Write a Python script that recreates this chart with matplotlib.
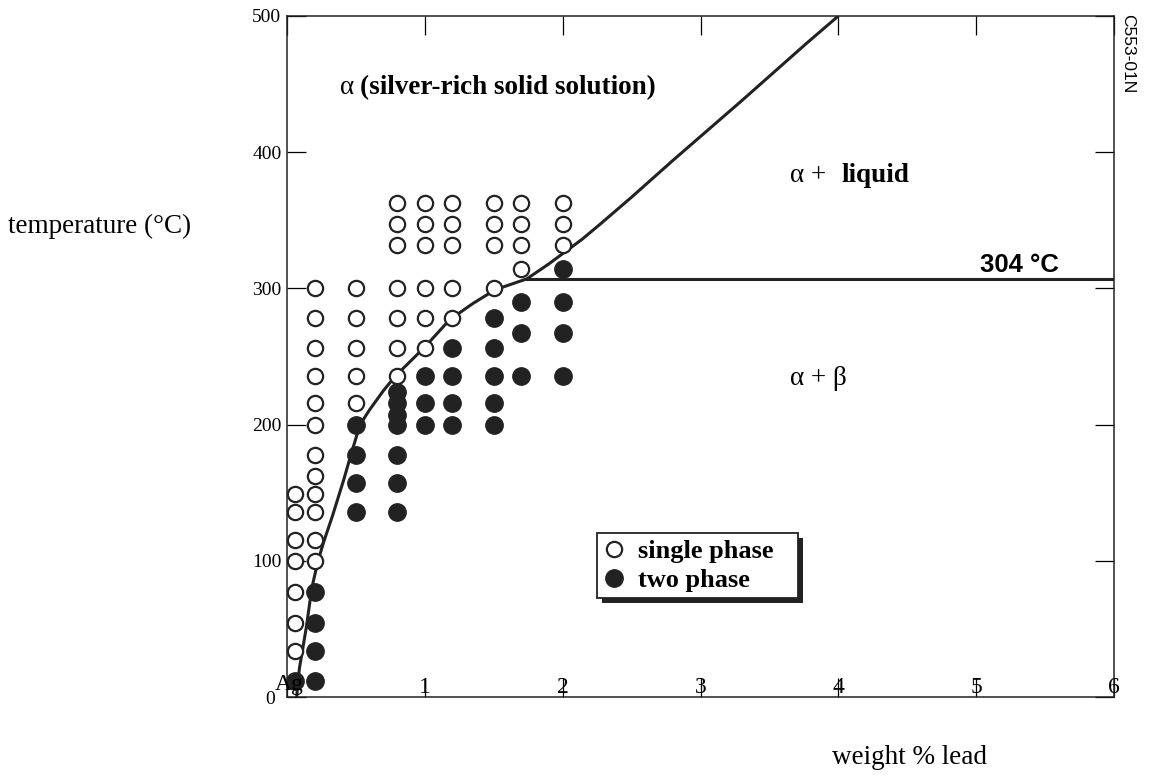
import matplotlib
matplotlib.use('Agg')
from matplotlib import pyplot as plt
from matplotlib.lines import Line2D
from matplotlib.patches import Rectangle

W, H = 1149, 776

# --- data (weight % lead, temperature in C) ---
single_x = [0.06]*7 + [0.2]*12 + [0.5]*5 + [0.8]*7 + [1.0]*6 + [1.2]*5 + [1.5]*4 + [1.7]*4 + [2.0]*3
single_t = ([149, 136, 115, 100, 77, 54, 34] +
            [300, 278, 256, 236, 216, 200, 178, 162, 149, 136, 115, 100] +
            [300, 278, 256, 236, 216] +
            [363, 347, 332, 300, 278, 256, 236] +
            [363, 347, 332, 300, 278, 256] +
            [363, 347, 332, 300, 278] +
            [363, 347, 332, 300] +
            [363, 347, 332, 314] +
            [363, 347, 332])

two_x = [0.06] + [0.2]*4 + [0.5]*4 + [0.8]*7 + [1.0]*3 + [1.2]*4 + [1.5]*5 + [1.7]*3 + [2.0]*4
two_t = ([12] +
         [77, 54, 34, 12] +
         [200, 178, 157, 136] +
         [224, 216, 207, 200, 178, 157, 136] +
         [236, 216, 200] +
         [256, 236, 216, 200] +
         [278, 256, 236, 216, 200] +
         [290, 267, 236] +
         [314, 290, 267, 236])

# phase boundary (solidus + liquidus)
curve_x = [0.07, 0.09, 0.14, 0.18, 0.225, 0.27, 0.33, 0.41, 0.47, 0.53, 0.6, 0.7, 0.79,
           0.9, 1.0, 1.18, 1.35, 1.51, 1.74, 1.9, 2.02, 2.14, 2.27, 2.5, 2.8, 3.29, 3.77, 4.0]
curve_t = [0, 21, 51, 80, 100, 115, 133, 159, 180, 200, 211, 225, 236,
           247, 257, 277, 289, 299, 307, 318, 327, 336, 347, 367, 394, 437, 480, 500]
eut_x = [1.74, 6.0]
eut_t = [307, 307]

xticks = [0, 1, 2, 3, 4, 5, 6]
xlabels = ['Ag', '1', '2', '3', '4', '5', '6']
yticks = [0, 100, 200, 300, 400, 500]


def fx(px):
    return px / W


def fy(py):
    return 1 - py / H


serif = ['Liberation Serif', 'DejaVu Serif']
sans = ['Liberation Sans', 'DejaVu Sans']
plt.rcParams['font.family'] = serif

fig = plt.figure(figsize=(W / 100, H / 100), dpi=100)
ax = fig.add_axes([fx(287), fy(697), fx(1114) - fx(287), fy(16) - fy(697)])

ax.plot(curve_x, curve_t, color='#222222', lw=2.2, zorder=2, solid_capstyle='butt')
ax.plot(eut_x, eut_t, color='#222222', lw=2.2, zorder=2)
ax.plot(single_x, single_t, 'o', ls='none', ms=11, mfc='white', mec='#222222', mew=1.6, zorder=3)
ax.plot(two_x, two_t, 'o', ls='none', ms=12.5, mfc='#222222', mec='#222222', mew=1, zorder=3)

ax.set_xlim(0, 6)
ax.set_ylim(0, 500)
for s in ax.spines.values():
    s.set_linewidth(1.1)
    s.set_color('#222222')

ax.set_yticks(yticks)
ax.set_yticklabels([str(v) for v in yticks], fontsize=14)
ax.tick_params(axis='y', direction='in', length=14, width=0.9, left=True, right=True, pad=4)
ax.yaxis.get_major_ticks()[0].set_pad(9)
ax.set_xticks(xticks)
ax.set_xticklabels([])
ax.tick_params(axis='x', direction='in', length=14, width=0.9, top=True, bottom=True)
for xv, lab in zip(xticks, xlabels):
    if xv == 0:
        ax.text(-0.09, 5, lab, ha='left', va='baseline', fontsize=17, zorder=4, clip_on=False)
    else:
        ax.text(xv, 3, lab, ha='center', va='baseline', fontsize=17, zorder=4, clip_on=False)

# region labels
fig.text(fx(340), fy(88), '\u03b1', fontsize=19.5, va='center', ha='left')
fig.text(fx(360), fy(88), '(silver-rich solid solution)', fontsize=19.5, fontweight='bold',
         va='center', ha='left')
fig.text(fx(790), fy(176), '\u03b1 +', fontsize=19.5, va='center', ha='left')
fig.text(fx(842), fy(176), 'liquid', fontsize=19.5, fontweight='bold', va='center', ha='left')
fig.text(fx(790), fy(378), '\u03b1 + \u03b2', fontsize=19.5, va='center', ha='left')
fig.text(fx(980), fy(265), '304 \u00b0C', fontsize=18.5, fontweight='bold', family=sans,
         va='center', ha='left')
fig.text(fx(1128), fy(14), 'C553-01N', fontsize=12.5, family=sans, rotation=-90,
         va='top', ha='center')

fig.text(fx(8), fy(226), 'temperature (\u00b0C)', fontsize=19.5, va='center', ha='left')
fig.text(fx(832), fy(757), 'weight % lead', fontsize=19.5, va='center', ha='left')

# legend with solid black drop shadow
h1 = Line2D([], [], marker='o', ls='none', ms=11, mfc='white', mec='#222222', mew=1.6)
h2 = Line2D([], [], marker='o', ls='none', ms=12.5, mfc='#222222', mec='#222222')
leg = ax.legend([h1, h2], ['single phase', 'two phase'], loc='upper left', mode='expand',
                bbox_to_anchor=(fx(597), fy(600), fx(798) - fx(597), fy(533) - fy(600)),
                bbox_transform=fig.transFigure,
                borderaxespad=0, fancybox=False, framealpha=1, edgecolor='#222222',
                prop={'family': serif, 'weight': 'bold', 'size': 19},
                handlelength=0.8, handletextpad=0.5, labelspacing=0.2, borderpad=0.25)
leg.get_frame().set_linewidth(1.3)
leg.set_zorder(6)
fig.canvas.draw()
bb = leg.get_window_extent()
inv = ax.transAxes.inverted()
(x0, y0), (x1, y1) = inv.transform([(bb.x0 + 5, bb.y0 - 5), (bb.x1 + 5, bb.y1 - 5)])
ax.add_patch(Rectangle((x0, y0), x1 - x0, y1 - y0, transform=ax.transAxes,
                       facecolor='#222222', edgecolor='none', zorder=5, clip_on=False))

fig.savefig('out.png', dpi=100)
